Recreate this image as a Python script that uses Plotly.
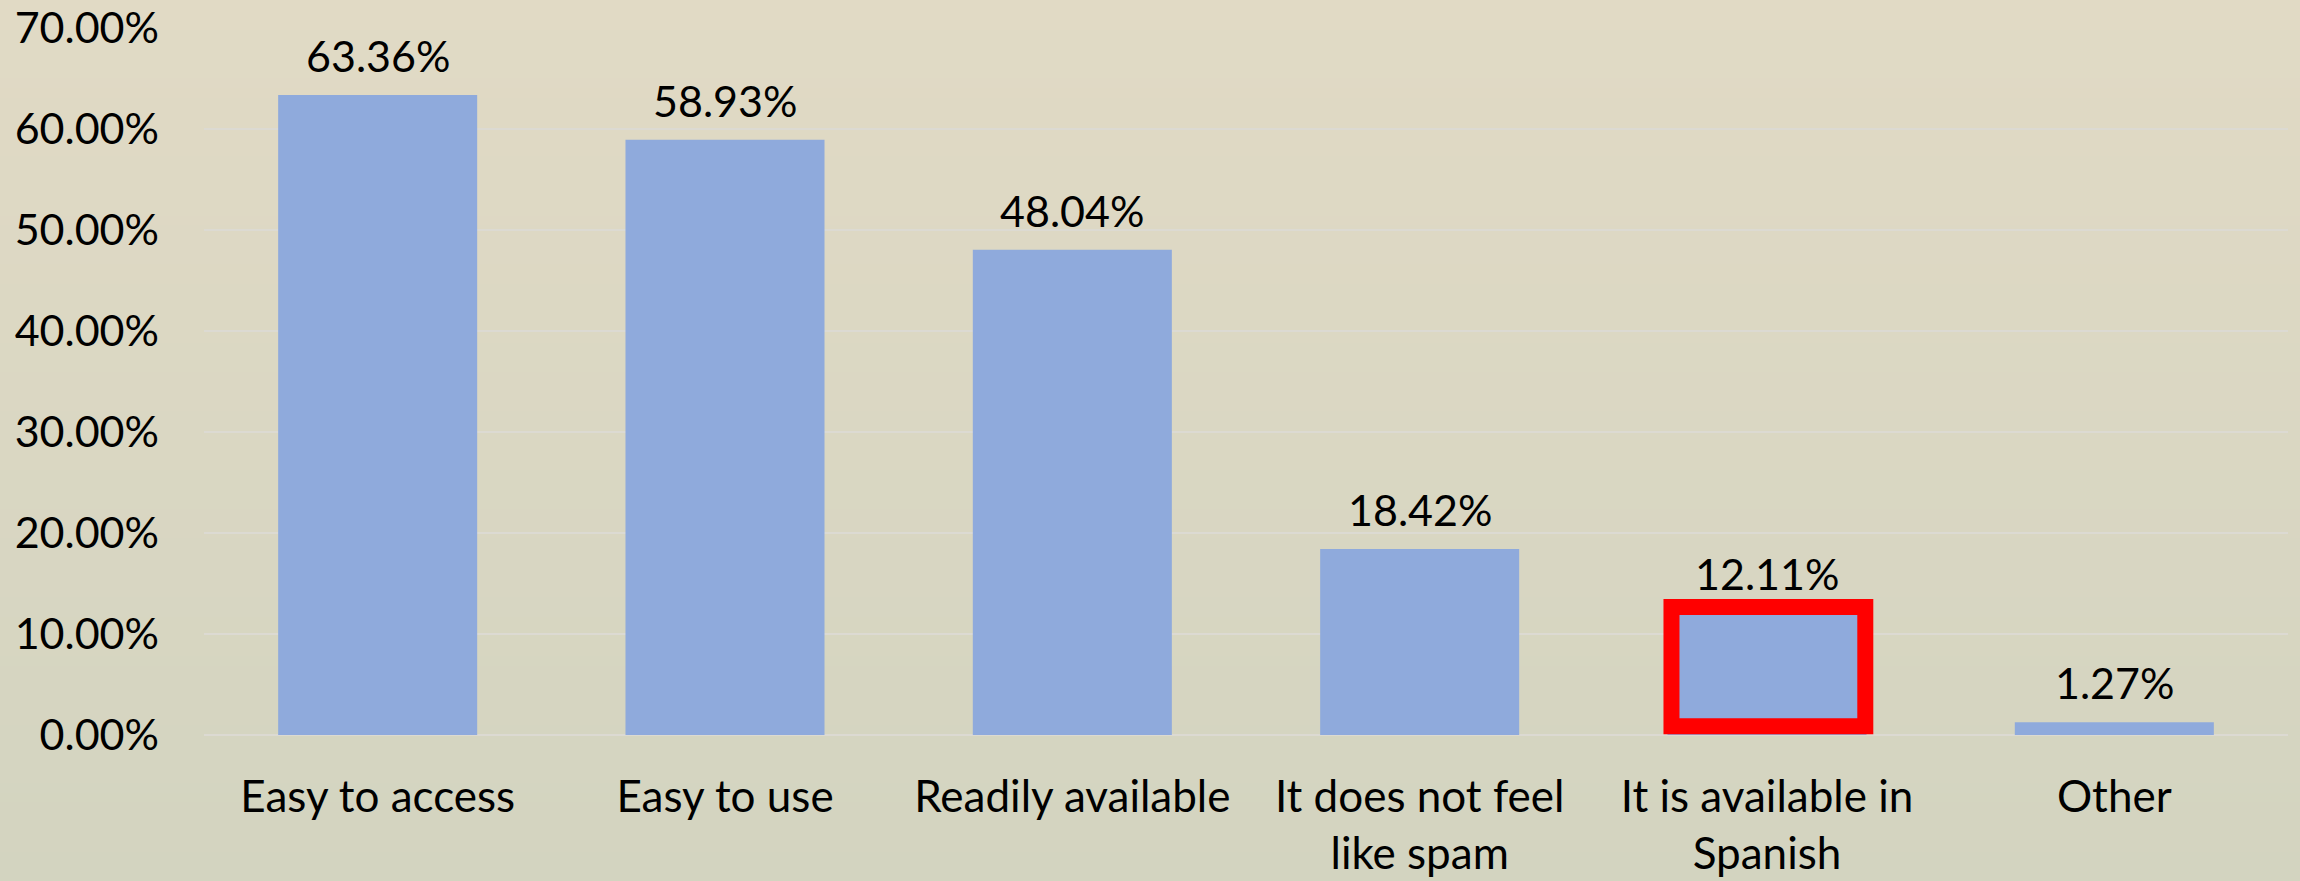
import plotly.graph_objects as go

# Survey responses: share of respondents choosing each reason
categories = [
    "Easy to access",
    "Easy to use",
    "Readily available",
    "It does not feel<br>like spam",
    "It is available in<br>Spanish",
    "Other",
]
values = [0.6336, 0.5893, 0.4804, 0.1842, 0.1211, 0.0127]
y_ticks = [0.0, 0.1, 0.2, 0.3, 0.4, 0.5, 0.6, 0.7]
y_tick_labels = [f"{v * 100:.2f}%" for v in y_ticks]
highlight_index = 4  # category outlined in red

W, H = 2300, 881
M_L, M_R, M_T, M_B = 204, 12, 28, 146
FONT = "Lato"
FS = 44
BAR_COLOR = "#8FAADC"
GRID_COLOR = "#DCDAD2"
TOP_BG = (225, 218, 197)
BOTTOM_BG = (211, 212, 192)

fig = go.Figure()

fig.add_trace(
    go.Bar(
        x=categories,
        y=values,
        marker=dict(color=BAR_COLOR, line=dict(width=0)),
        hoverinfo="skip",
    )
)

# value labels above each bar
for cat, v in zip(categories, values):
    fig.add_annotation(
        x=cat,
        y=v,
        text=f"{v * 100:.2f}%",
        showarrow=False,
        yanchor="bottom",
        yshift=12,
        font=dict(family=FONT, size=FS - 1, color="#000000"),
    )

# vertical background gradient built from thin horizontal bands
plot_h = H - M_T - M_B
n_bands = 90
shapes = []
for i in range(n_bands):
    p0 = i * H / n_bands
    p1 = (i + 1) * H / n_bands + 1
    t = (i + 0.5) / n_bands
    r, g, b = (round(TOP_BG[k] + (BOTTOM_BG[k] - TOP_BG[k]) * t) for k in range(3))
    shapes.append(
        dict(
            type="rect",
            xref="paper",
            yref="paper",
            x0=-M_L / (W - M_L - M_R) - 0.01,
            x1=1 + M_R / (W - M_L - M_R) + 0.01,
            y0=(H - M_B - p1) / plot_h,
            y1=(H - M_B - p0) / plot_h,
            fillcolor=f"rgb({r},{g},{b})",
            line=dict(width=0),
            layer="below",
        )
    )

# red outline around the highlighted bar
shapes.append(
    dict(
        type="rect",
        xref="x",
        yref="y",
        x0=highlight_index - 0.275,
        x1=highlight_index + 0.283,
        y0=0.0087,
        y1=values[highlight_index] + 0.0057,
        line=dict(color="#FF0000", width=16),
        fillcolor="rgba(0,0,0,0)",
        layer="above",
    )
)

fig.update_layout(
    width=W,
    height=H,
    margin=dict(l=M_L, r=M_R, t=M_T, b=M_B, pad=0),
    paper_bgcolor="rgb(218,215,195)",
    plot_bgcolor="rgba(0,0,0,0)",
    bargap=0.427,
    showlegend=False,
    shapes=shapes,
    font=dict(family=FONT, size=FS, color="#000000"),
)

fig.update_xaxes(
    type="category",
    automargin=False,
    showgrid=False,
    showline=False,
    zeroline=False,
    ticks="",
    tickfont=dict(family=FONT, size=FS, color="#000000"),
    ticklabelstandoff=32,
)

fig.update_yaxes(
    range=[0, 0.7],
    automargin=False,
    tickvals=y_ticks,
    ticktext=y_tick_labels,
    showgrid=True,
    gridcolor=GRID_COLOR,
    gridwidth=2,
    zeroline=True,
    zerolinecolor=GRID_COLOR,
    zerolinewidth=2,
    showline=False,
    ticks="",
    tickfont=dict(family=FONT, size=FS - 1, color="#000000"),
    ticklabelstandoff=44,
)

fig.write_html("out.html")
